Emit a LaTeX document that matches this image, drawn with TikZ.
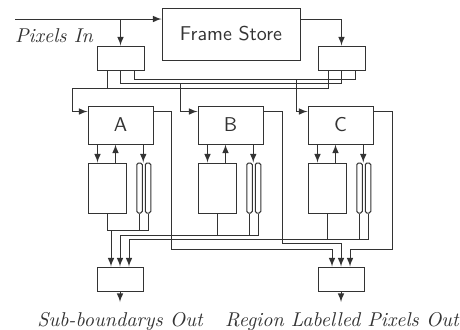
\documentclass[tikz,border=0pt]{standalone}
\usetikzlibrary{calc}
\begin{document}
\begin{tikzpicture}[x=0.5pt, y=-0.5pt, >=latex, line width=0.5pt, color=black!80,
  box/.style={rectangle, draw, inner sep=0pt},
  unit/.style={box, minimum width=32.5pt, minimum height=19pt, font=\sffamily},
  sel/.style={box, minimum width=23.5pt, minimum height=12pt},
  mem/.style={box, minimum width=19pt, minimum height=25pt},
  tube/.style={box, minimum width=2.75pt, minimum height=25pt, rounded corners=0.8pt}]
\useasboundingbox (0,0) rectangle (460,329);
\node[box, minimum width=69pt, minimum height=26pt, font=\sffamily] (fs) at (231,34) {Frame Store};
\node[sel] (sl) at (120.5,58) {};
\node[sel] (sr) at (341.5,58) {};
\node[unit] (A) at (120.5,125) {A};
\node[unit] (B) at (230.5,125) {B};
\node[unit] (C) at (340.5,125) {C};
\node[mem] (mA) at (107,188) {};
\node[mem] (mB) at (217,188) {};
\node[mem] (mC) at (327,188) {};
\node[tube] (tA1) at (139.5,188) {};
\node[tube] (tA2) at (148,188) {};
\node[tube] (tB1) at (249.5,188) {};
\node[tube] (tB2) at (258,188) {};
\node[tube] (tC1) at (359.5,188) {};
\node[tube] (tC2) at (368,188) {};
\node[sel, minimum width=23pt] (ol) at (120,279) {};
\node[sel, minimum width=23pt] (or) at (341,279) {};
\node[anchor=base west, font=\itshape] (tp) at (8,42) {Pixels In};
\node[anchor=base, font=\itshape] (tl) at (120,326) {Sub-boundarys Out};
\node[anchor=base, font=\itshape] (tr) at (342,326) {Region Labelled Pixels Out};
\coordinate (pin) at (15,19);
\coordinate (ql) at (120,302);
\coordinate (qr) at (341,302);
% input side
\draw[->] (pin) -- (pin -| fs.west);
\draw[->] (pin -| sl.north) -- (sl.north);
\draw[->] (pin -| fs.east) -| (sr.north);
\draw ($(sl.south)+(13.5,0)$) |- ($(sr.south)+(13.5,9)$) -- ($(sr.south)+(13.5,0)$);
\draw (sl.south) |- ($(sr.south)+(0,13)$) -- (sr.south);
\draw ($(sl.south)+(-13.5,0)$) -- ++(0,18);
\draw[->] ($(sr.south)+(-13.5,0)$) |- (72,88) |- ($(A.north west)+(0,6)$);
\draw[->] (180,83) |- ($(B.north west)+(0,6)$);
\draw[->] (296,79) |- ($(C.north west)+(0,6)$);
% unit to store
\draw[->] ($(A.south west)+(10,0)$) -- ($(mA.north west)+(10,0)$);
\draw[<-] ($(A.south west)+(28,0)$) -- ($(mA.north west)+(28,0)$);
\draw[->] ($(A.south west)+(55.75,0)$) -- ($(mA.north west)+(55.75,0)$);
\draw[->] ($(B.south west)+(10,0)$) -- ($(mB.north west)+(10,0)$);
\draw[<-] ($(B.south west)+(28,0)$) -- ($(mB.north west)+(28,0)$);
\draw[->] ($(B.south west)+(55.75,0)$) -- ($(mB.north west)+(55.75,0)$);
\draw[->] ($(C.south west)+(10,0)$) -- ($(mC.north west)+(10,0)$);
\draw[<-] ($(C.south west)+(28,0)$) -- ($(mC.north west)+(28,0)$);
\draw[->] ($(C.south west)+(55.75,0)$) -- ($(mC.north west)+(55.75,0)$);
% sub-boundarys
\draw (mA.south) |- (111,230);
\draw (tA1.south) -- (139.5,230);
\draw[->] (tA2.south) |- (111,230) -- ($(ol.north)+(-9,0)$);
\draw (mB.south) -- (217,235);
\draw (tB1.south) -- (249.5,235);
\draw[->] (tB2.south) |- (120,235) -- (ol.north);
\draw (mC.south) -- (327,239);
\draw (tC1.south) -- (359.5,239);
\draw[->] (tC2.south) |- (129,239) -- ($(ol.north)+(9,0)$);
% labelled pixels
\draw[->] ($(A.north east)+(0,6)$) -| (171,249) -| ($(or.north)+(-9,0)$);
\draw[->] ($(B.north east)+(0,6)$) -| (282,243) -| (or.north);
\draw[->] ($(C.north east)+(0,6)$) -| (392,249) -| ($(or.north)+(9,0)$);
\draw[->] (ol.south) -- (ql);
\draw[->] (or.south) -- (qr);
\end{tikzpicture}
\end{document}
